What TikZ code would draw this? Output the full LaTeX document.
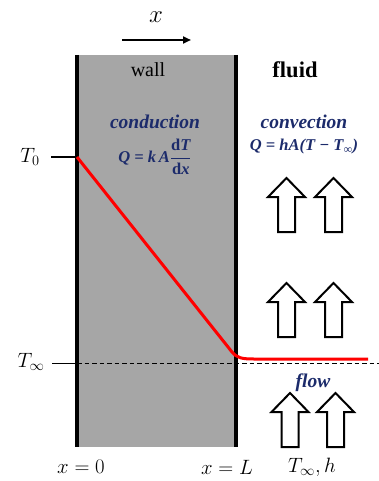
\documentclass[tikz,border=0pt]{standalone}
\usepackage{fontspec}
\setmainfont{Liberation Serif}
\definecolor{wallgray}{HTML}{A6A6A6}
\definecolor{navy}{HTML}{1C2B6B}
\usetikzlibrary{arrows.meta}
\begin{document}
\begin{tikzpicture}[x=1pt,y=-1pt,
  lbl/.style={inner sep=0pt,font=\fontsize{20}{22}\selectfont},
  blue lbl/.style={inner sep=0pt,text=navy,font=\fontsize{19.5}{21}\selectfont\bfseries\itshape},
  formula/.style={inner sep=0pt,text=navy,font=\fontsize{16.5}{18}\selectfont\bfseries\itshape},
  mathlbl/.style={inner sep=0pt,font=\fontsize{21}{23}\selectfont},
  wallline/.style={line width=3.8pt},
  tick/.style={line width=1pt},
  profile/.style={red,line width=3pt,line join=round},
  blockarrow/.pic={\draw[line width=2pt,fill=white,line join=miter]
     (-8.5,0) -- (8.5,0) -- (8.5,-35) -- (18.5,-35) -- (0,-54) -- (-18.5,-35) -- (-8.5,-35) -- cycle;}
]
\useasboundingbox (0,0) rectangle (379,481);
% wall
\fill[wallgray] (77,55) rectangle (236,447);
\coordinate (wlt) at (77,55);
\coordinate (wlb) at (77,447);
\coordinate (wrt) at (236,55);
\coordinate (wrb) at (236,447);
\draw[wallline] (wlt) -- (wlb);
\draw[wallline] (wrt) -- (wrb);
% x axis arrow
\node[mathlbl,font=\fontsize{31}{33}\selectfont] (xlab) at (156,17) {$x$};
\coordinate (xa) at (122,40);
\coordinate (xb) at (191,40);
\draw[line width=2pt,-{Triangle[length=8pt,width=7pt]}] (xa) -- (xb);
% labels
\node[lbl] (wall) at (148,70) {wall};
\node[lbl,font=\fontsize{22.5}{24}\selectfont\bfseries] (fluid) at (295,70) {fluid};
\node[blue lbl] (cond) at (155,122) {conduction};
\node[formula] (condf) at (155,157) {$\mbox{Q = k\,A}\displaystyle\frac{\mbox{\upshape d\itshape T}}{\mbox{\upshape d\itshape x}}$};
\node[blue lbl] (conv) at (304,122) {convection};
\node[formula] (convf) at (304,147) {Q = hA(T − T$_{\mbox{\fontsize{12}{13}\selectfont ∞}}$)};
\node[blue lbl] (flow) at (313,383) {flow};
% temperatures
\node[mathlbl] (T0) at (30,157) {$T_0$};
\node[mathlbl] (Tinf) at (31,362) {$T_\infty$};
\coordinate (t0a) at (51,157);
\coordinate (t0b) at (77,157);
\draw[tick] (t0a) -- (t0b);
\coordinate (tia) at (52,363);
\coordinate (tib) at (77,363);
\coordinate (tic) at (379,363);
\draw[tick] (tia) -- (tib);
\draw[line width=0.8pt,dash pattern=on 4.5pt off 3pt] (tib) -- (tic);
% temperature profile
\coordinate (p0) at (77,157);
\coordinate (p1) at (232,352);
\coordinate (p2) at (254,359);
\coordinate (p3) at (368,359);
\draw[profile] (p0) -- (p1) .. controls (237,358) and (242,359) .. (p2) -- (p3);
% bottom labels
\node[mathlbl] (x0) at (81,467) {$x=0$};
\node[mathlbl] (xL) at (227,467) {$x=L$};
\node[mathlbl] (Th) at (312,467) {$T_\infty,h$};
% flow arrows
\pic at (286.5,232) {blockarrow};
\pic at (333.5,232) {blockarrow};
\pic at (286.5,337) {blockarrow};
\pic at (333.5,337) {blockarrow};
\pic at (290,447) {blockarrow};
\pic at (335.5,447) {blockarrow};
\end{tikzpicture}
\end{document}
